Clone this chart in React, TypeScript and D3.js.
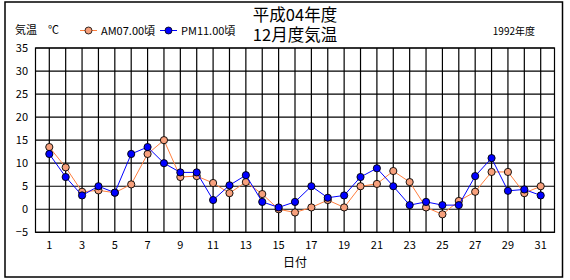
import React from "react";
import * as d3 from "d3";

const days: number[] = Array.from({ length: 31 }, (_, i) => i + 1);
const amTemps: number[] = [13.5, 9.1, 3.8, 4.1, 3.6, 5.4, 12.0, 15.0, 7.0, 7.2, 5.7, 3.5, 5.9, 3.3, 0.0, -0.7, 0.4, 2.0, 0.4, 5.0, 5.5, 8.3, 5.9, 0.4, -1.1, 1.8, 3.8, 8.1, 8.1, 3.5, 5.0];
const pmTemps: number[] = [12.0, 7.0, 3.0, 5.0, 3.6, 12.0, 13.5, 10.0, 8.0, 8.0, 2.0, 5.2, 7.4, 1.6, 0.4, 1.6, 5.0, 2.5, 3.0, 7.0, 8.9, 5.0, 0.9, 1.6, 0.9, 0.9, 7.2, 11.1, 4.0, 4.3, 3.0];
const yTicks: number[] = [-5, 0, 5, 10, 15, 20, 25, 30, 35];
const xTickLabels: number[] = [1, 3, 5, 7, 9, 11, 13, 15, 17, 19, 21, 23, 25, 27, 29, 31];
const titleLines: string[] = ["平成04年度", "12月度気温"];
const seriesNames: string[] = ["AM07.00頃", "PM11.00頃"];

const W = 570, H = 280;
const plotL = 35.5, plotR = 554.5, plotT = 48, plotB = 232.3;
const FONT = "'Noto Sans CJK JP', 'Noto Sans', sans-serif";

export default function App() {
  const x = d3.scaleLinear().domain([1, 31]).range([49.3, 540.7]);
  const y = d3.scaleLinear().domain([-5, 35]).range([plotB, plotT]);
  const line = d3.line<number>().x((_, i) => x(days[i])).y((v) => y(v));

  const series = [
    { name: seriesNames[0], values: amTemps, line: "#FF7F3F", fill: "#F7A07C" },
    { name: seriesNames[1], values: pmTemps, line: "#0000FF", fill: "#0000FF" },
  ];

  return (
    <svg width={W} height={H} style={{ position: "absolute", left: 0, top: 0, background: "#fff" }} fontFamily={FONT}>
      <rect x={5} y={2} width={557.5} height={275} fill="#fff" stroke="#000" strokeWidth={1.5} />
      {/* title */}
      {titleLines.map((t, i) => (
        <text key={t} x={295} y={21 + i * 20} textAnchor="middle" fontSize={16.5} fill="#000">{t}</text>
      ))}
      <text x={15} y={34} fontSize={11} fill="#000">気温　℃</text>
      <text x={535} y={35} fontSize={10} textAnchor="end" fill="#000">1992年度</text>
      {/* legend */}
      {series.map((s, i) => {
        const lx = 80 + i * 80;
        return (
          <g key={s.name}>
            <line x1={lx} x2={lx + 17} y1={30.5} y2={30.5} stroke={s.line} strokeWidth={1} />
            <circle cx={lx + 8.5} cy={30.5} r={3.5} fill={s.fill} stroke="#000" strokeWidth={0.8} />
            <text x={lx + 21} y={35} fontSize={11} fill="#000">{s.name}</text>
          </g>
        );
      })}
      {/* grid */}
      {yTicks.map((t) => (
        <g key={t}>
          <line x1={plotL} x2={plotR} y1={y(t)} y2={y(t)} stroke="#000" strokeWidth={1.2} />
          <text x={28} y={y(t) + 4} textAnchor="end" fontSize={11} fill="#000">{t === -5 ? "−5" : t}</text>
        </g>
      ))}
      {days.map((d) => (
        <line key={d} x1={x(d)} x2={x(d)} y1={plotT} y2={plotB} stroke="#000" strokeWidth={1.2} />
      ))}
      <rect x={plotL} y={plotT} width={plotR - plotL} height={plotB - plotT} fill="none" stroke="#000" strokeWidth={1.2} />
      {xTickLabels.map((d) => (
        <text key={d} x={x(d)} y={249} textAnchor="middle" fontSize={11} fill="#000">{d}</text>
      ))}
      <text x={x(16)} y={267} textAnchor="middle" fontSize={12} fill="#000">日付</text>
      {/* series */}
      {series.map((s) => (
        <g key={s.name}>
          <path d={line(s.values) || ""} fill="none" stroke={s.line} strokeWidth={1} />
          {s.values.map((v, i) => (
            <circle key={i} cx={x(days[i])} cy={y(v)} r={3.6} fill={s.fill} stroke="#000" strokeWidth={0.9} />
          ))}
        </g>
      ))}
    </svg>
  );
}
